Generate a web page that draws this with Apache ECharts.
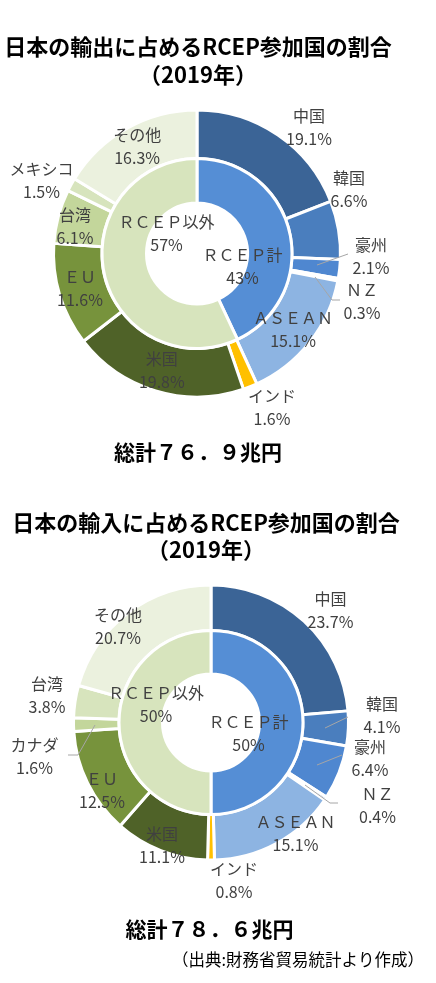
<!DOCTYPE html>
<html>
<head>
<meta charset="utf-8">
<script src="https://cdn.jsdelivr.net/npm/echarts@6/dist/echarts.min.js"></script>
<style>
html,body{margin:0;padding:0;background:#fff;}
#c{width:436px;height:983px;}
</style>
</head>
<body>
<div id="c"></div>
<script>
// ---------- data ----------
const exportTitle = '日本の輸出に占めるRCEP参加国の割合\n（2019年）';
const exportTotal = '総計７６．９兆円';
const exportNames = ['中国', '韓国', '豪州', 'ＮＺ', 'ＡＳＥＡＮ', 'インド', '米国', 'ＥＵ', '台湾', 'メキシコ', 'その他'];
const exportValues = [19.1, 6.6, 2.1, 0.3, 15.1, 1.6, 19.8, 11.6, 6.1, 1.5, 16.3];
const exportGroupNames = ['ＲＣＥＰ計', 'ＲＣＥＰ以外'];
const exportGroupValues = [43, 57];

const importTitle = '日本の輸入に占めるRCEP参加国の割合\n（2019年）';
const importTotal = '総計７８．６兆円';
const importNames = ['中国', '韓国', '豪州', 'ＮＺ', 'ＡＳＥＡＮ', 'インド', '米国', 'ＥＵ', 'カナダ', '台湾', 'その他'];
const importValues = [23.7, 4.1, 6.4, 0.4, 15.1, 0.8, 11.1, 12.5, 1.6, 3.8, 20.7];
const importGroupNames = ['ＲＣＥＰ計', 'ＲＣＥＰ以外'];
const importGroupValues = [50, 50];

const sourceNote = '（出典:財務省貿易統計より作成）';

// ---------- styles / layout ----------
const FONT = '"Noto Sans CJK JP", "Noto Sans", sans-serif';
const outerColors = ['#3B6496', '#4A7EBE', '#4F87D0', '#4F87D0', '#8DB4E2', '#FFC000', '#4F6228', '#77933C', '#C3D69B', '#D7E4BD', '#EBF1DE'];
const groupColors = ['#558ED5', '#D7E4BD'];

const exportCenter = [197, 253.5];
const importCenter = [211, 722.5];

// label block offsets from the pie centre (only where the label is moved off its default spot)
const exportOuterOffsets = {
  '中国': [112, -126], '韓国': [152, -64.5], '豪州': [174, 3], 'ＮＺ': [165, 47.5],
  'インド': [75, 154], 'メキシコ': [-155.5, -73], '台湾': [-122, -27.5]
};
const exportOutside = ['中国', '韓国', '豪州', 'ＮＺ', 'インド', 'メキシコ'];
// leader-line bend points, relative to the pie centre
const exportLeaders = [
  [[120, 11.5], [151, 0.5]],
  [[118, 23.5], [135, 46.5], [143, 46.5]]
];
const exportInnerOffsets = {'ＲＣＥＰ計': [45.5, 13], 'ＲＣＥＰ以外': [-30.5, -20]};

const importOuterOffsets = {
  '中国': [119.5, -112.5], '韓国': [171, -7], '豪州': [159, 36], 'ＮＺ': [166.5, 82.5],
  'ＡＳＥＡＮ': [84.5, 111], 'インド': [23, 158], '米国': [-49, 122.5], 'ＥＵ': [-109, 67.5],
  'カナダ': [-176.5, 33.5], '台湾': [-164, -27.5], 'その他': [-93, -96]
};
const importOutside = ['中国', '韓国', '豪州', 'ＮＺ', 'インド', 'カナダ', '台湾'];
const importLeaders = [
  [[114, 5.5], [137, -5.5]],
  [[106, 42.5], [131, 32.5]],
  [[94, 62.5], [119, 80.5], [127, 80.5]],
  [[-116, 2.5], [-133, 32.5], [-143, 32.5]]
];
const importInnerOffsets = {'ＲＣＥＰ計': [37.5, 11], 'ＲＣＥＰ以外': [-55, -18.5]};

function makeLayout(center, names, offsets) {
  return function (params) {
    const o = offsets[names[params.dataIndex]];
    if (!o) return {};
    return {x: center[0] + o[0], y: center[1] + o[1], align: 'center', verticalAlign: 'middle'};
  };
}

function leaderGraphics(center, leaders) {
  return leaders.map(pts => ({
    type: 'polyline', z: 100, silent: true,
    shape: {points: pts.map(p => [center[0] + p[0], center[1] + p[1]])},
    style: {stroke: '#A6A6A6', lineWidth: 1, fill: null}
  }));
}

const labelBase = {
  show: true, color: '#404040', fontFamily: FONT, fontSize: 16, lineHeight: 23,
  align: 'center'
};

function outerSeries(center, radius, names, values, offsets, outside) {
  return {
    type: 'pie', center: center, radius: radius, startAngle: 90, clockwise: true,
    avoidLabelOverlap: false, silent: true, animation: false,
    itemStyle: {borderColor: '#fff', borderWidth: 3},
    label: Object.assign({}, labelBase, {
      position: 'inside',
      formatter: p => p.name + '\n' + p.value.toFixed(1) + '%'
    }),
    labelLine: {show: false},
    labelLayout: makeLayout(center, names, offsets),
    data: names.map((n, i) => {
      const item = {name: n, value: values[i], itemStyle: {color: outerColors[i]}};
      if (outside.indexOf(n) >= 0) item.label = {position: 'outside'};
      return item;
    })
  };
}

function innerSeries(center, radius, names, values, offsets) {
  return {
    type: 'pie', center: center, radius: radius, startAngle: 90, clockwise: true,
    avoidLabelOverlap: false, silent: true, animation: false,
    itemStyle: {borderColor: '#fff', borderWidth: 3},
    label: Object.assign({}, labelBase, {
      position: 'inside',
      formatter: p => p.name + '\n' + p.value + '%'
    }),
    labelLine: {show: false},
    labelLayout: makeLayout(center, names, offsets),
    data: names.map((n, i) => ({name: n, value: values[i], itemStyle: {color: groupColors[i]}}))
  };
}

function titleText(text, left, top, size, lh, weight, align) {
  return {
    text: text, left: left, top: top, textAlign: align || 'center', padding: 0,
    textStyle: {fontFamily: FONT, fontSize: size, fontWeight: weight, color: '#000', lineHeight: lh}
  };
}

const chart = echarts.init(document.getElementById('c'));
chart.setOption({
  backgroundColor: '#fff',
  animation: false,
  title: [
    titleText(exportTitle, 198, 33, 22, 28, 'bold'),
    titleText(exportTotal, 198, 440, 21, 24, 'bold'),
    titleText(importTitle, 206, 509.5, 22, 27, 'bold'),
    titleText(importTotal, 209.5, 917, 21, 24, 'bold'),
    titleText(sourceNote, 424, 948, 16.5, 24, 'normal', 'right')
  ],
  graphic: leaderGraphics(exportCenter, exportLeaders).concat(leaderGraphics(importCenter, importLeaders)),
  series: [
    outerSeries(exportCenter, [95, 143.5], exportNames, exportValues, exportOuterOffsets, exportOutside),
    innerSeries(exportCenter, [50.5, 95], exportGroupNames, exportGroupValues, exportInnerOffsets),
    outerSeries(importCenter, [92, 137.5], importNames, importValues, importOuterOffsets, importOutside),
    innerSeries(importCenter, [48.5, 92], importGroupNames, importGroupValues, importInnerOffsets)
  ]
});
</script>
</body>
</html>
